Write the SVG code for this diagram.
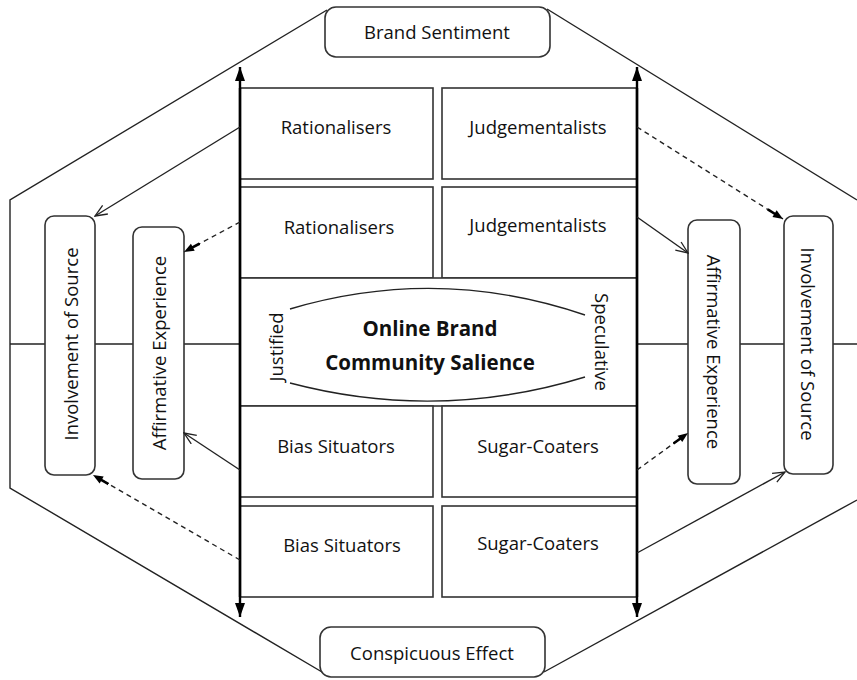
<svg xmlns="http://www.w3.org/2000/svg" width="857" height="680" viewBox="0 0 857 680">
<style>
.box{fill:#fff;stroke:#333;stroke-width:1.6}
.ln{fill:none;stroke:#222;stroke-width:1.4}
.dash{fill:none;stroke:#222;stroke-width:1.4;stroke-dasharray:5 4}
.axis{fill:none;stroke:#000;stroke-width:2.4}
.t{font-family:"Open Sans","DejaVu Sans",sans-serif;font-size:18.5px;fill:#111;text-anchor:middle;dominant-baseline:central}
.b{font-family:"Open Sans","DejaVu Sans",sans-serif;font-size:20.5px;font-weight:bold;fill:#111;text-anchor:middle;dominant-baseline:central}
</style>
<defs>
<marker id="big" markerUnits="userSpaceOnUse" viewBox="0 0 14 10" refX="14" refY="5" markerWidth="14" markerHeight="10" orient="auto">
<path d="M0,0 L14,5 L0,10 Z" fill="#000"/>
</marker>
<marker id="open" markerUnits="userSpaceOnUse" viewBox="0 0 14 12" refX="13" refY="6" markerWidth="14" markerHeight="12" orient="auto">
<path d="M1,1 L13,6 L1,11" fill="none" stroke="#222" stroke-width="1.3"/>
</marker>
<marker id="fill" markerUnits="userSpaceOnUse" viewBox="0 0 18 10" refX="18" refY="5" markerWidth="18" markerHeight="10" orient="auto">
<path d="M0,5 L10,5" stroke="#000" stroke-width="2.6" fill="none"/>
<path d="M8,1 L18,5 L8,9 Z" fill="#000"/>
</marker>
</defs>

<g id="outline">
<polyline class="ln" points="327,10 10,200 10,488 322,672"/>
<line class="ln" x1="547" y1="9" x2="857" y2="200"/>
<line class="ln" x1="544" y1="672" x2="857" y2="500"/>
<line class="ln" x1="10" y1="344" x2="240" y2="344"/>
<line class="ln" x1="637" y1="344" x2="857" y2="344"/>
</g>

<g id="brand-sentiment">
<rect class="box" x="325" y="7" width="225" height="50" rx="11"/>
<text class="t" x="437" y="31">Brand Sentiment</text>
</g>
<g id="conspicuous-effect">
<rect class="box" x="320" y="627" width="225" height="50" rx="11"/>
<text class="t" x="432" y="652">Conspicuous Effect</text>
</g>

<g id="r1-left"><rect class="box" x="240" y="88" width="193" height="91"/><text class="t" x="336" y="126">Rationalisers</text></g>
<g id="r1-right"><rect class="box" x="442" y="88" width="195" height="91"/><text class="t" x="538" y="126">Judgementalists</text></g>
<g id="r2-left"><rect class="box" x="240" y="187" width="193" height="91"/><text class="t" x="339" y="226">Rationalisers</text></g>
<g id="r2-right"><rect class="box" x="442" y="187" width="195" height="91"/><text class="t" x="538" y="224">Judgementalists</text></g>
<g id="center">
<rect class="box" x="240" y="278" width="397" height="128"/>
<path class="ln" d="M290,309 Q438,265 585,315"/>
<path class="ln" d="M290,383 Q438,422 585,377"/>
<text class="b" x="430" y="328">Online Brand</text>
<text class="b" x="430" y="362">Community Salience</text>
<text class="t" x="275" y="347" transform="rotate(-90 275 347)">Justified</text>
<text class="t" x="602" y="342" transform="rotate(90 602 342)">Speculative</text>
</g>
<g id="r3-left"><rect class="box" x="240" y="406" width="193" height="91"/><text class="t" x="336" y="445">Bias Situators</text></g>
<g id="r3-right"><rect class="box" x="442" y="406" width="195" height="91"/><text class="t" x="538" y="445">Sugar-Coaters</text></g>
<g id="r4-left"><rect class="box" x="240" y="506" width="193" height="91"/><text class="t" x="342" y="544">Bias Situators</text></g>
<g id="r4-right"><rect class="box" x="442" y="506" width="195" height="91"/><text class="t" x="538" y="542">Sugar-Coaters</text></g>

<g id="left-involvement"><rect class="box" x="45" y="216" width="50" height="259" rx="9"/><text class="t" x="70" y="344" transform="rotate(-90 70 344)">Involvement of Source</text></g>
<g id="left-affirmative"><rect class="box" x="133" y="227" width="51" height="252" rx="9"/><text class="t" x="158.5" y="353" transform="rotate(-90 158.5 353)">Affirmative Experience</text></g>
<g id="right-affirmative"><rect class="box" x="688" y="220" width="52" height="264" rx="9"/><text class="t" x="714" y="352" transform="rotate(90 714 352)">Affirmative Experience</text></g>
<g id="right-involvement"><rect class="box" x="784" y="216" width="49" height="258" rx="9"/><text class="t" x="808.5" y="344" transform="rotate(90 808.5 344)">Involvement of Source</text></g>

<g id="connectors">
<line class="axis" x1="240" y1="597" x2="240" y2="67" marker-end="url(#big)"/>
<line class="axis" x1="240" y1="88" x2="240" y2="617" marker-end="url(#big)"/>
<line class="axis" x1="637" y1="597" x2="637" y2="67" marker-end="url(#big)"/>
<line class="axis" x1="637" y1="88" x2="637" y2="617" marker-end="url(#big)"/>
<line class="ln" x1="240" y1="127" x2="95" y2="216" marker-end="url(#open)"/>
<line class="dash" x1="240" y1="222" x2="184" y2="252" marker-end="url(#fill)"/>
<line class="ln" x1="240" y1="470" x2="184" y2="433" marker-end="url(#open)"/>
<line class="dash" x1="240" y1="560" x2="93" y2="475" marker-end="url(#fill)"/>
<line class="dash" x1="637" y1="127" x2="783" y2="219" marker-end="url(#fill)"/>
<line class="ln" x1="637" y1="217" x2="688" y2="253" marker-end="url(#open)"/>
<line class="dash" x1="637" y1="470" x2="688" y2="433" marker-end="url(#fill)"/>
<line class="ln" x1="637" y1="553" x2="785" y2="472" marker-end="url(#open)"/>
</g>
</svg>
